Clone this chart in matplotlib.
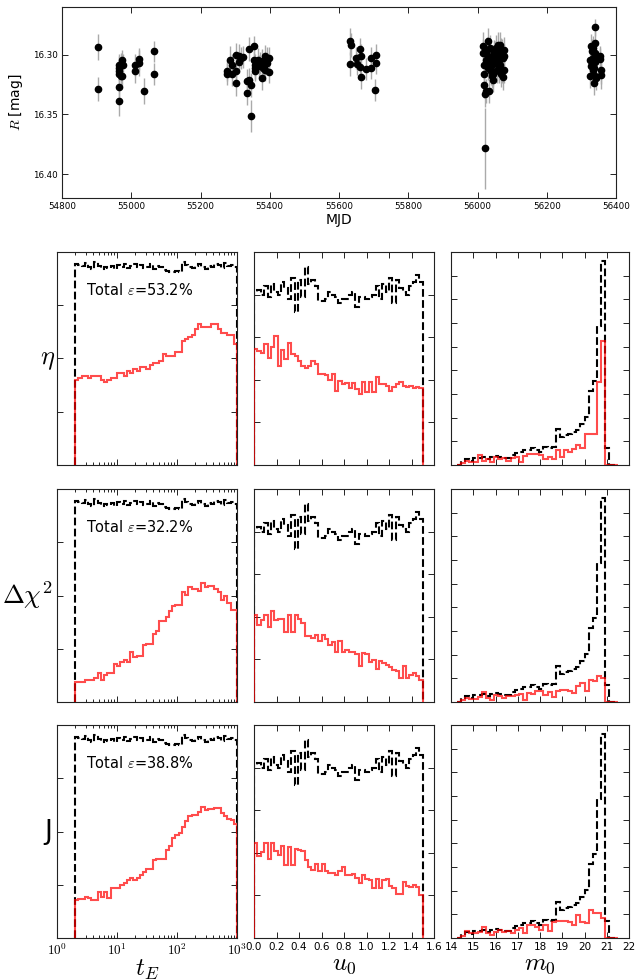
import numpy as np
import matplotlib
matplotlib.use("Agg")
import matplotlib.pyplot as plt
from matplotlib.ticker import FixedLocator, FuncFormatter, LogLocator, NullFormatter

plt.rcParams['font.family'] = ['DejaVu Sans']
plt.rcParams['mathtext.fontset'] = 'cm'

# ---------------- light curve data ----------------
mjd = [54904.3, 54904.3, 54964.3, 54964.3, 54964.3, 54964.3, 54964.3, 54964.3, 54969.1, 54969.1,
       54973.9, 54974.9, 54973.0, 55011.6, 55011.6, 55023.2, 55023.2, 55037.7, 55066.7, 55066.7,
       55277.3, 55277.3, 55286.0, 55290.8, 55290.8, 55302.4, 55303.4, 55303.4, 55311.1, 55312.0,
       55316.9, 55322.7, 55334.3, 55334.3, 55339.1, 55339.1, 55346.9, 55346.9, 55353.6, 55353.6,
       55358.5, 55358.5, 55358.5, 55365.2, 55368.1, 55373.0, 55377.8, 55380.7, 55382.6, 55387.4,
       55377.8, 55387.4, 55392.3, 55392.3, 55398.1, 55398.1,
       55632.8, 55635.7, 55632.8, 55650.1, 55651.1, 55661.7, 55661.7, 55664.6, 55664.6, 55678.1,
       55692.5, 55692.5, 55705.1, 55706.0, 55706.0,
       56014.5, 56016.4, 56018.3, 56018.3, 56018.3, 56021.2, 56024.1, 56021.2, 56027.0, 56028.9,
       56030.8, 56033.7, 56033.7, 56036.6, 56038.6, 56038.6, 56041.4, 56043.4, 56045.3, 56048.2,
       56051.1, 56053.0, 56054.9, 56057.8, 56057.8, 56060.7, 56062.7, 56064.6, 56067.5, 56067.5,
       56070.4, 56072.3, 56074.2, 56075.2, 56077.1, 56024.1, 56030.8, 56045.3, 56051.1, 56060.7,
       56064.6, 56070.4, 56077.1, 56040.0, 56055.0,
       56324.8, 56324.8, 56327.7, 56329.6, 56330.6, 56332.5, 56334.5, 56335.4, 56337.3, 56339.3,
       56340.2, 56340.2, 56340.2, 56342.2, 56354.7, 56354.7, 56356.6, 56356.6, 56327.7, 56332.5,
       56337.3, 56334.5]
mag = [16.2938, 16.3289, 16.3084, 16.3112, 16.3132, 16.3160, 16.3266, 16.3384, 16.3076, 16.3176,
       16.3042, 16.3084, 16.3182, 16.3087, 16.3140, 16.3036, 16.3070, 16.3303, 16.2972, 16.3160,
       16.3132, 16.3160, 16.3048, 16.3090, 16.3160, 16.3000, 16.3132, 16.3238, 16.3014, 16.3059,
       16.3028, 16.3020, 16.3216, 16.3322, 16.3210, 16.2952, 16.3252, 16.3513, 16.2930, 16.3042,
       16.3084, 16.3112, 16.3134, 16.3042, 16.3098, 16.3070, 16.3050, 16.3112, 16.3092, 16.3126,
       16.3196, 16.3008, 16.3036, 16.3070, 16.3028, 16.3148,
       16.2888, 16.2916, 16.3078, 16.3028, 16.3076, 16.2952, 16.3106, 16.3008, 16.3188, 16.3120,
       16.3028, 16.3115, 16.3294, 16.3070, 16.3000,
       16.2986, 16.2930, 16.3084, 16.3160, 16.3252, 16.3328, 16.3300, 16.3784, 16.2958, 16.3014,
       16.2888, 16.3056, 16.3300, 16.2944, 16.3098, 16.3140, 16.3176, 16.3210, 16.3028, 16.2986,
       16.3070, 16.2944, 16.3126, 16.2916, 16.3014, 16.3042, 16.3098, 16.2916, 16.2972, 16.3160,
       16.3126, 16.3028, 16.3188, 16.2958, 16.3126, 16.3042, 16.3112, 16.3160, 16.2986, 16.3140,
       16.3084, 16.2972, 16.3014, 16.3070, 16.3056,
       16.3042, 16.3176, 16.2930, 16.3070, 16.2972, 16.3126, 16.3056, 16.3168, 16.3238, 16.3064,
       16.2986, 16.2902, 16.2770, 16.3196, 16.3014, 16.3036, 16.3126, 16.3171, 16.3098, 16.3028,
       16.3112, 16.2944]
mag_err = [0.011, 0.010, 0.009, 0.010, 0.009, 0.010, 0.010, 0.013, 0.009, 0.010,
           0.008, 0.009, 0.010, 0.009, 0.010, 0.009, 0.011, 0.011, 0.009, 0.009,
           0.009, 0.009, 0.012, 0.010, 0.010, 0.010, 0.010, 0.011, 0.010, 0.009,
           0.009, 0.009, 0.010, 0.010, 0.010, 0.010, 0.010, 0.013, 0.009, 0.010,
           0.009, 0.009, 0.009, 0.010, 0.010, 0.009, 0.010, 0.009, 0.010, 0.009,
           0.010, 0.009, 0.010, 0.009, 0.009, 0.009,
           0.011, 0.010, 0.010, 0.009, 0.009, 0.009, 0.010, 0.010, 0.010, 0.009,
           0.009, 0.009, 0.009, 0.009, 0.009,
           0.012, 0.012, 0.012, 0.012, 0.011, 0.011, 0.010, 0.034, 0.011, 0.011,
           0.011, 0.011, 0.010, 0.011, 0.011, 0.011, 0.010, 0.010, 0.011, 0.011,
           0.011, 0.011, 0.011, 0.011, 0.011, 0.011, 0.011, 0.011, 0.011, 0.011,
           0.011, 0.011, 0.011, 0.011, 0.011, 0.010, 0.010, 0.010, 0.010, 0.010,
           0.010, 0.010, 0.010, 0.010, 0.010,
           0.010, 0.010, 0.010, 0.010, 0.010, 0.010, 0.010, 0.010, 0.010, 0.010,
           0.010, 0.010, 0.007, 0.010, 0.009, 0.009, 0.012, 0.012, 0.010, 0.010,
           0.010, 0.010]

# ---------------- histogram data ----------------
tE_edges = np.logspace(np.log10(2.0), 3.0, 51)
u0_edges = np.linspace(0.0, 1.5, 51)
m0_edges = np.linspace(14.27, 21.485, 40)

# all simulated events (black dashed), relative frequency
tE_all = [.945, .94, .935, .95, .93, .92, .955, .935, .92, .93,
          .925, .935, .92, .94, .93, .945, .925, .935, .945, .93,
          .94, .925, .93, .945, .92, .935, .93, .915, .91, .905,
          .905, .91, .905, .955, .94, .93, .925, .935, .945, .93,
          .92, .935, .93, .945, .94, .925, .95, .935, .94, .93]
u0_all = [.81, .82, .80, .84, .79, .85, .81, .80, .86, .83,
          .78, .88, .72, .87, .79, .93, .85, .87, .84, .77,
          .77, .78, .81, .80, .79, .76, .78, .78, .80, .81,
          .74, .79, .79, .78, .79, .80, .84, .78, .85, .81,
          .88, .76, .87, .83, .81, .80, .84, .86, .89, .86]
m0_all = [0.0, .02, .026, .02, .031, .035, .039, .026, .039, .042,
          .039, .035, .031, .047, .054, .062, .07, .07, .078, .07,
          .062, .085, .08, .085, .17, .132, .14, .147, .155, .163,
          .194, .225, .349, .395, .651, .957, .078, 0.0, 0.0]

# detected events (red), per detection statistic
tE_eta = [.40, .41, .42, .42, .41, .42, .42, .42, .40, .39,
          .40, .41, .41, .43, .43, .42, .44, .43, .45, .44,
          .46, .46, .45, .47, .48, .48, .49, .52, .51, .51,
          .51, .53, .53, .58, .59, .60, .61, .64, .66, .65,
          .65, .65, .66, .66, .64, .62, .62, .61, .61, .57]
tE_dchi2 = [.093, .093, .093, .104, .104, .104, .112, .135, .104, .127,
            .135, .135, .177, .171, .186, .197, .189, .233, .212, .217,
            .217, .267, .27, .27, .321, .332, .379, .379, .40, .425,
            .45, .455, .455, .516, .503, .539, .531, .531, .519, .559,
            .54, .545, .545, .531, .516, .481, .50, .466, .43, .43]
tE_J = [.178, .183, .183, .194, .186, .178, .178, .217, .194, .217,
        .189, .233, .236, .236, .248, .26, .271, .282, .271, .282,
        .295, .31, .326, .326, .364, .37, .37, .37, .411, .434,
        .468, .482, .493, .519, .55, .574, .577, .577, .592, .617,
        .603, .605, .605, .608, .608, .586, .574, .561, .555, .535]

u0_eta = [.543, .535, .527, .569, .504, .553, .605, .465, .538, .496,
          .574, .522, .512, .488, .465, .457, .465, .488, .473, .426,
          .426, .423, .398, .426, .346, .395, .380, .383, .361, .383,
          .357, .333, .388, .341, .388, .341, .411, .380, .380, .372,
          .346, .364, .380, .388, .372, .367, .372, .361, .365, .36]
u0_dchi2 = [.41, .363, .383, .407, .352, .425, .383, .388, .388, .329,
            .407, .329, .407, .391, .373, .31, .31, .301, .314, .286,
            .314, .298, .267, .283, .233, .286, .236, .244, .233, .236,
            .224, .171, .228, .224, .186, .197, .155, .193, .182, .174,
            .166, .151, .146, .115, .171, .115, .127, .135, .12, .104]
u0_J = [.447, .384, .403, .447, .369, .447, .407, .388, .434, .341,
        .426, .344, .419, .415, .407, .364, .333, .318, .349, .313,
        .349, .313, .307, .307, .298, .313, .333, .298, .298, .302,
        .282, .256, .298, .279, .271, .233, .279, .233, .271, .276,
        .245, .236, .205, .205, .261, .245, .24, .251, .24, .202]

m0_eta = [0.0, .01, .02, .016, .016, .047, .02, .026, .016, .039,
          .026, .034, .02, .031, .039, .016, .042, .051, .051, .051,
          .047, .026, .039, .026, .07, .039, .07, .062, .073, .093,
          .08, .147, .147, .147, .39, .58, 0.0, 0.0, 0.0]
m0_dchi2 = [0.0, .01, .019, .016, .016, .025, .047, .019, .011, .034,
            .026, .019, .026, .026, .031, .037, .011, .042, .037, .05,
            .05, .034, .047, .022, .05, .058, .058, .05, .042, .073,
            .089, .05, .104, .097, .12, .112, 0.0, 0.0, 0.0]
m0_J = [0.0, .01, .031, .023, .023, .028, .05, .023, .016, .028,
        .039, .028, .031, .023, .039, .047, .023, .062, .059, .05,
        .039, .059, .031, .074, .078, .078, .078, .074, .062, .109,
        .074, .07, .132, .116, .116, .093, 0.0, 0.0, 0.0]

row_labels = [r'$\eta$', r'$\Delta\chi^2$', 'J']
efficiencies = ['53.2', '32.2', '38.8']
col_labels = [r'$t_E$', r'$u_0$', r'$m_0$']

edges = [tE_edges, u0_edges, m0_edges]
all_hist = [tE_all, u0_all, m0_all]
det_hist = [[tE_eta, u0_eta, m0_eta],
            [tE_dchi2, u0_dchi2, m0_dchi2],
            [tE_J, u0_J, m0_J]]

W, H = 635, 980
fig = plt.figure(figsize=(W / 100, H / 100), dpi=100)

def tickstyle(ax, size):
    ax.tick_params(which='both', direction='in', top=True, right=True, labelsize=size,
                   width=0.6, color='k', pad=3)
    ax.tick_params(which='major', length=4)
    ax.tick_params(which='minor', length=2)
    for s in ax.spines.values():
        s.set_linewidth(0.8)
        s.set_color('#222222')

# ---------------- top panel ----------------
ax = fig.add_axes([62 / W, 1 - 198 / H, (616 - 62) / W, (198 - 7) / H])
ax.errorbar(mjd, mag, yerr=mag_err, fmt='o', color='k', ms=4.5, mec='k',
            ecolor='#aaaaaa', elinewidth=1.0, capsize=0, zorder=3)
ax.set_xlim(54800, 56400)
ax.set_ylim(16.42, 16.26)
ax.xaxis.set_major_locator(FixedLocator(np.arange(54800, 56401, 200)))
ax.yaxis.set_major_locator(FixedLocator([16.30, 16.35, 16.40]))
ax.yaxis.set_major_formatter(FuncFormatter(lambda v, p: '%.2f' % v))
tickstyle(ax, 6.3)
ax.set_xlabel('MJD', fontsize=10, labelpad=1)
ax.set_ylabel(r'$R$ [mag]', fontsize=10, labelpad=6)

# ---------------- histogram grid ----------------
col_left = [57, 254, 451]
col_w = [180, 180, 178]
row_top = [252, 489, 725]
row_h = 213
ytick_sets = [[.25, .5, .75], [.2, .4, .6, .8], [i / 9 for i in range(1, 9)]]

for r in range(3):
    for c in range(3):
        a = fig.add_axes([col_left[c] / W, 1 - (row_top[r] + row_h) / H, col_w[c] / W, row_h / H])
        a.stairs(all_hist[c], edges[c], baseline=0, color='k', ls='--', lw=1.5, zorder=2)
        a.stairs(det_hist[r][c], edges[c], baseline=0, color='r', alpha=0.7, lw=1.5, zorder=3)
        a.set_ylim(0, 1)
        a.yaxis.set_major_locator(FixedLocator(ytick_sets[c]))
        a.yaxis.set_major_formatter(NullFormatter())
        if c == 0:
            a.set_xscale('log')
            a.set_xlim(1, 1000)
            a.xaxis.set_major_locator(LogLocator(base=10, numticks=10))
            a.xaxis.set_minor_locator(LogLocator(base=10, subs=np.arange(2, 10), numticks=10))
            a.xaxis.set_major_formatter(FuncFormatter(lambda v, p: r'$10^{%d}$' % round(np.log10(v))))
            a.xaxis.set_minor_formatter(NullFormatter())
            a.text(0.16, 0.823, r'Total $\varepsilon$=' + efficiencies[r] + '%',
                   transform=a.transAxes, ha='left', va='center', fontsize=10.5)
            tickstyle(a, 9.5)
        elif c == 1:
            a.set_xlim(0, 1.6)
            a.xaxis.set_major_locator(FixedLocator(np.arange(0, 1.61, 0.2)))
            a.xaxis.set_major_formatter(FuncFormatter(lambda v, p: '%.1f' % v))
            tickstyle(a, 7.5)
        else:
            a.set_xlim(14, 22)
            a.xaxis.set_major_locator(FixedLocator(np.arange(14, 23, 1)))
            a.xaxis.set_major_formatter(FuncFormatter(lambda v, p: '%d' % v))
            tickstyle(a, 7.5)
        if r < 2:
            a.xaxis.set_major_formatter(NullFormatter())
        else:
            a.set_xlabel(col_labels[c], fontsize=18, labelpad=0)
    yc = 1 - (row_top[r] + row_h / 2) / H
    xc = [48, 27, 48][r]
    fig.text(xc / W, yc, row_labels[r], ha='center', va='center', fontsize=19)

fig.savefig('out.png', dpi=100)
